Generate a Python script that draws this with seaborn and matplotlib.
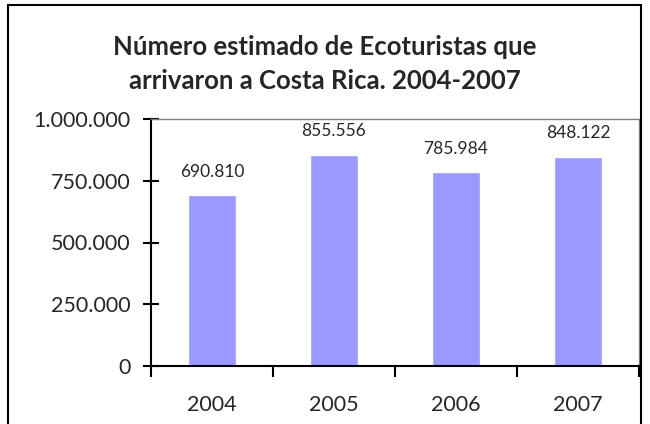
import matplotlib
matplotlib.use('Agg')
import matplotlib.pyplot as plt
import seaborn as sns
import pandas as pd
from matplotlib.patches import Rectangle
from matplotlib.ticker import FuncFormatter, FixedLocator

# Data
years = ['2004', '2005', '2006', '2007']
ecotourists = [690810, 855556, 785984, 848122]
y_ticks = [0, 250000, 500000, 750000, 1000000]

df = pd.DataFrame({'year': years, 'visitors': ecotourists})


def fmt_es(v, pos=None):
    # thousands separator with dots
    return f"{int(v):,}".replace(',', '.')


sns.set_style('white')
plt.rcParams['font.family'] = ['Lato', 'DejaVu Sans']

fig = plt.figure(figsize=(6.5, 4.24), dpi=100)
ax = fig.add_axes([151 / 650, 1 - 366 / 424, (639 - 151) / 650, (366 - 119) / 424])

sns.barplot(data=df, x='year', y='visitors', color='#9999FF', width=0.4,
            saturation=1, ax=ax)

# Data labels
for i, v in enumerate(ecotourists):
    ax.text(i, v + 62000, fmt_es(v), ha='center', va='bottom', fontsize=12.5)

ax.set_ylim(0, 1000000)
ax.set_xlim(-0.5, 3.5)
ax.set_yticks(y_ticks)
ax.yaxis.set_major_formatter(FuncFormatter(fmt_es))
ax.set_xlabel('')
ax.set_ylabel('')

# Excel-style x ticks between categories
ax.xaxis.set_major_locator(FixedLocator([0, 1, 2, 3]))
ax.xaxis.set_minor_locator(FixedLocator([-0.5, 0.5, 1.5, 2.5, 3.5]))
ax.tick_params(axis='x', which='both', bottom=True)
ax.tick_params(axis='x', which='major', length=0, pad=21, labelsize=15.5)
ax.tick_params(axis='x', which='minor', length=8, width=1.5, direction='out', color='black')
ax.tick_params(axis='y', left=True, length=11, width=1.5, direction='inout', color='black',
               labelsize=15.5, pad=9)

for side in ['left', 'bottom']:
    ax.spines[side].set_color('black')
    ax.spines[side].set_linewidth(1.5)
for side in ['top', 'right']:
    ax.spines[side].set_visible(True)
    ax.spines[side].set_color('#808080')
    ax.spines[side].set_linewidth(1)

fig.text(0.5, 1 - 47 / 424, 'Número estimado de Ecoturistas que', ha='center', va='center',
         fontsize=18.5, fontweight='bold')
fig.text(0.5, 1 - 81 / 424, 'arrivaron a Costa Rica. 2004-2007', ha='center', va='center',
         fontsize=18.5, fontweight='bold')

# Chart outer border
fig.patches.append(Rectangle((8 / 650, -0.05), (641 - 8) / 650, 1 - 5 / 424 + 0.05,
                             transform=fig.transFigure, fill=False, edgecolor='black',
                             linewidth=1.5))

fig.savefig('out.png', dpi=100)
